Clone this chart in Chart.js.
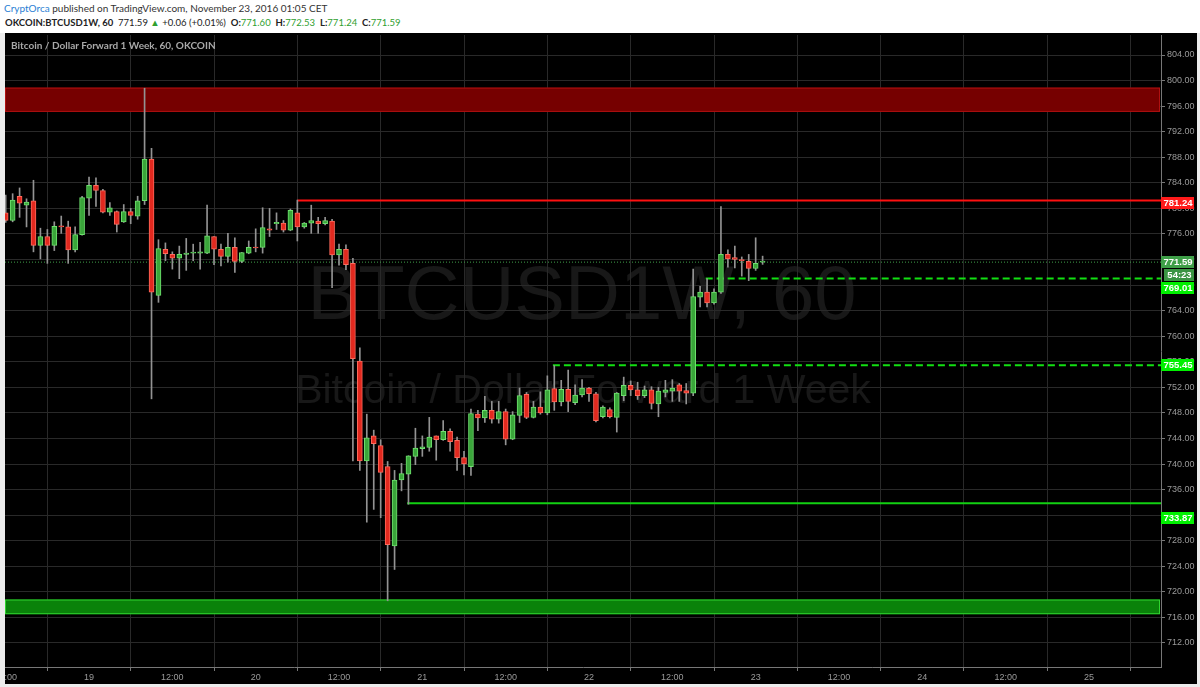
<!DOCTYPE html>
<html lang="en">
<head>
<meta charset="UTF-8">
<title>BTCUSD1W, 60</title>
<script src="https://cdn.jsdelivr.net/npm/chart.js@4.4.9/dist/chart.umd.min.js"></script>
<style>
    body { margin: 0; width: 1200px; height: 687px; overflow: hidden; background: #ececec; position: relative; font-family: "Lato", "Liberation Sans", sans-serif; }
    .cabecalho { position: absolute; left: 0; top: 0; width: 1200px; height: 33px; background: #fff; }
    .linha1 { position: absolute; left: 4px; top: 2px; font-size: 10px; color: #333; white-space: nowrap; }
    .linha1 .autor { color: #2a7fd4; }
    .linha2 { position: absolute; left: 5px; top: 17px; font-size: 9.5px; color: #222; white-space: nowrap; }
    .linha2 b { font-weight: 700; }
    .verde { color: #2fa02f; }
    .painel { position: absolute; left: 5px; top: 33px; width: 1192px; height: 651px; background: #000; }
    .titulo { position: absolute; left: 6px; top: 6px; font-size: 10px; font-weight: 700; color: #a8a8a8; white-space: nowrap; }
</style>
</head>
<body>
    <div class="cabecalho">
        <div class="linha1"><span class="autor">CryptOrca</span> published on TradingView.com, November 23, 2016 01:05 CET</div>
        <div class="linha2"><b>OKCOIN:BTCUSD1W, 60</b>&nbsp; 771.59 <span class="verde">&#9650;</span> +0.06 (+0.01%)&nbsp; <b>O:</b><span class="verde">771.60</span>&nbsp; <b>H:</b><span class="verde">772.53</span>&nbsp; <b>L:</b><span class="verde">771.24</span>&nbsp; <b>C:</b><span class="verde">771.59</span></div>
    </div>
    <div class="painel">
        <canvas id="grafico" width="1192" height="651"></canvas>
        <div class="titulo">Bitcoin / Dollar Forward 1 Week, 60, OKCOIN</div>
    </div>
<script>
    // hourly candles, first one at Nov 18 12:00 (hours counted from Nov 18 00:00)
    const primeiraHora = 12
    const abertura = [779.3, 778.1, 781.9, 780.5, 781.2, 774.2, 775.6, 774.2, 777.2, 777.1,
        773.5, 775.9, 781.6, 783.6, 782.8, 779.4, 779.5, 777.9, 779.5, 778.8,
        781.2, 787.7, 766.4, 773.6, 772.8, 772.2, 772.8, 773.0, 773.0, 773.0,
        775.6, 773.6, 772.5, 773.9, 771.7, 773.0, 773.9, 773.9, 776.8, 777.6,
        777.7, 776.6, 779.3, 777.1, 777.7, 778.0, 777.6, 778.0, 772.7, 773.6,
        771.4, 756.1, 740.5, 744.4, 742.9, 739.6, 727.2, 737.5, 738.4, 741.2,
        742.4, 742.6, 744.4, 743.8, 745.1, 743.7, 741.0, 739.6, 747.8, 747.2,
        748.4, 747.0, 748.2, 743.9, 747.6, 750.9, 747.3, 748.9, 748.0, 751.8,
        749.7, 751.7, 749.6, 750.8, 751.9, 751.0, 747.4, 748.5, 747.3, 750.7,
        752.3, 751.6, 750.7, 751.6, 749.4, 751.2, 751.4, 752.4, 751.5, 751.1,
        766.1, 766.9, 765.2, 766.9, 772.8, 772.3, 772.0, 771.7, 770.6, 771.58]
    const maximas = [782.1, 782.3, 783.2, 781.5, 784.4, 776.9, 776.7, 777.9, 778.8, 778.0,
        777.1, 781.9, 784.9, 784.8, 783.0, 780.9, 779.6, 780.6, 780.0, 781.9,
        798.8, 789.4, 775.1, 774.6, 773.2, 774.1, 775.3, 774.4, 774.7, 780.5,
        775.6, 774.4, 776.1, 775.4, 773.1, 774.9, 776.8, 780.1, 780.0, 779.3,
        778.1, 779.9, 781.3, 777.8, 780.5, 778.6, 778.6, 778.3, 774.4, 774.3,
        772.2, 758.2, 747.8, 745.3, 743.8, 740.4, 739.0, 740.1, 741.3, 745.6,
        744.4, 747.3, 744.4, 746.8, 745.5, 744.2, 742.0, 748.6, 748.4, 750.6,
        749.8, 749.8, 748.6, 748.2, 751.9, 751.2, 749.8, 751.3, 753.8, 755.4,
        753.1, 754.7, 752.4, 753.2, 752.0, 751.2, 749.1, 748.8, 751.2, 753.6,
        753.0, 752.8, 752.2, 752.1, 752.0, 753.1, 753.2, 752.6, 752.6, 770.5,
        767.8, 769.0, 767.4, 780.3, 773.5, 774.1, 772.4, 772.8, 775.4, 772.53]
    const minimas = [777.8, 777.9, 778.6, 777.1, 773.2, 772.1, 771.4, 773.4, 776.1, 771.4,
        773.2, 775.8, 778.9, 780.3, 779.3, 778.9, 776.3, 777.8, 777.6, 778.3,
        780.6, 750.2, 765.3, 771.8, 770.5, 769.0, 770.3, 771.8, 770.5, 772.9,
        771.2, 771.0, 771.6, 770.0, 771.5, 772.9, 773.2, 773.0, 775.6, 776.7,
        776.3, 776.5, 774.9, 776.9, 776.1, 776.1, 777.4, 767.6, 771.1, 770.4,
        740.5, 739.0, 730.9, 732.9, 731.6, 718.6, 723.5, 735.8, 733.7, 739.9,
        741.2, 742.0, 740.6, 743.7, 742.0, 739.0, 738.3, 738.2, 745.2, 746.5,
        746.4, 746.4, 743.0, 743.8, 746.5, 747.1, 747.2, 747.8, 747.7, 748.4,
        749.1, 748.2, 749.3, 750.5, 749.8, 746.6, 747.2, 747.2, 745.0, 749.9,
        750.7, 750.1, 750.4, 748.6, 747.4, 750.5, 749.8, 749.8, 749.4, 750.7,
        764.6, 764.6, 765.0, 766.7, 770.8, 770.7, 769.4, 768.7, 770.3, 771.24]
    const fechamento = [778.1, 781.3, 780.8, 781.0, 774.2, 775.6, 774.2, 777.2, 777.1, 773.5,
        775.9, 781.7, 783.6, 782.8, 779.4, 780.1, 777.5, 779.5, 778.9, 781.2,
        787.7, 766.9, 773.7, 772.9, 772.2, 772.8, 773.0, 773.1, 773.2, 775.7,
        773.6, 772.5, 773.9, 771.7, 773.1, 773.9, 773.8, 777.0, 776.6, 777.8,
        776.6, 779.7, 777.1, 777.7, 778.1, 777.6, 778.1, 772.7, 773.6, 771.2,
        756.5, 740.5, 744.1, 743.2, 738.7, 727.4, 737.5, 738.5, 741.3, 742.5,
        742.7, 744.2, 743.8, 745.1, 743.5, 741.0, 740.0, 747.9, 747.2, 748.4,
        747.0, 748.2, 743.9, 747.7, 750.7, 747.3, 748.9, 748.0, 751.6, 749.7,
        751.7, 749.8, 750.8, 751.9, 751.0, 746.8, 748.9, 747.4, 751.1, 752.3,
        751.6, 750.7, 751.6, 749.5, 751.4, 751.6, 751.9, 751.4, 751.1, 766.2,
        766.9, 765.2, 766.9, 772.8, 772.1, 772.0, 771.8, 770.6, 771.4, 771.59]

    // eixos
    const horasTicks = [12, 24, 36, 48, 60, 72, 84, 96, 108, 120, 132, 144, 156, 168]
    const rotulosTicks = ['12:00', '19', '12:00', '20', '12:00', '21', '12:00', '22', '12:00', '23', '12:00', '24', '12:00', '25']
    const precosTicks = [712, 716, 720, 724, 728, 732, 736, 740, 744, 748, 752, 756, 760, 764, 768, 772, 776, 780, 784, 788, 792, 796, 800, 804]

    // linhas horizontais desenhadas (preco e hora de inicio)
    const niveisPreco = [781.24, 769.01, 755.45, 733.87]
    const niveisInicio = [54, 112.8, 90.8, 69.8]
    const precoAtual = 771.59
    const contagem = '54:23'

    // zonas (base, topo)
    const zonaVermelha = [795.1, 798.9]
    const zonaVerde = [716.5, 718.8]

    const xMin = 11.9
    const xMax = 178.37

    let corpos = []
    let pavios = []
    let coresCorpo = []
    let coresBorda = []
    for (let i = 0; i < abertura.length; i++) {
        const h = primeiraHora + i
        corpos.push({ x: h, y: [abertura[i], fechamento[i]] })
        pavios.push({ x: h, y: [minimas[i], maximas[i]] })
        const sobe = fechamento[i] >= abertura[i]
        coresCorpo.push(sobe ? '#3aa53a' : '#e2291f')
        coresBorda.push(sobe ? '#6ee06e' : '#ff6a5c')
    }

    function linhaNivel(i) {
        return [{ x: niveisInicio[i], y: niveisPreco[i] }, { x: xMax, y: niveisPreco[i] }]
    }

    const pluginFundo = {
        id: 'fundo',
        beforeDraw(chart) {
            const ctx = chart.ctx
            ctx.save()
            ctx.fillStyle = '#181818'
            ctx.textAlign = 'center'
            ctx.textBaseline = 'middle'
            ctx.font = '76px "Liberation Sans", Arial, sans-serif'
            ctx.fillText('BTCUSD1W, 60', 577, 265)
            ctx.font = '41px "Liberation Sans", Arial, sans-serif'
            ctx.fillText('Bitcoin / Dollar Forward 1 Week', 578, 359)
            ctx.restore()
        },
        beforeDatasetsDraw(chart) {
            const ctx = chart.ctx
            const a = chart.chartArea
            const y = chart.scales.y
            ctx.save()
            let t = y.getPixelForValue(zonaVermelha[1]), b = y.getPixelForValue(zonaVermelha[0])
            ctx.fillStyle = '#760000'
            ctx.fillRect(a.left, t, a.right - a.left - 1, b - t)
            ctx.strokeStyle = '#b01010'
            ctx.lineWidth = 1
            ctx.strokeRect(a.left + 0.5, t + 0.5, a.right - a.left - 2, b - t - 1)
            t = y.getPixelForValue(zonaVerde[1]); b = y.getPixelForValue(zonaVerde[0])
            ctx.fillStyle = '#0a820a'
            ctx.fillRect(a.left, t, a.right - a.left - 1, b - t)
            ctx.strokeStyle = '#2fd42f'
            ctx.strokeRect(a.left + 0.5, t + 0.5, a.right - a.left - 2, b - t - 1)
            ctx.restore()
        },
        afterDraw(chart) {
            const ctx = chart.ctx
            const a = chart.chartArea
            const y = chart.scales.y
            const etiquetas = [
                { texto: niveisPreco[0].toFixed(2), v: niveisPreco[0], dy: 3, fundo: '#ff1a1a', rec: 0 },
                { texto: precoAtual.toFixed(2), v: precoAtual, dy: 0, fundo: '#3f9f48', rec: 0 },
                { texto: contagem, v: precoAtual, dy: 13, fundo: '#3a9443', rec: 3 },
                { texto: niveisPreco[1].toFixed(2), v: niveisPreco[1], dy: 9, fundo: '#00f000', rec: 0 },
                { texto: niveisPreco[2].toFixed(2), v: niveisPreco[2], dy: 0, fundo: '#00f000', rec: 0 },
                { texto: niveisPreco[3].toFixed(2), v: niveisPreco[3], dy: 15, fundo: '#00f000', rec: 0 }
            ]
            ctx.save()
            ctx.font = 'bold 9.5px "Liberation Sans", Arial, sans-serif'
            ctx.textAlign = 'center'
            ctx.textBaseline = 'middle'
            etiquetas.forEach(function (e) {
                const py = Math.round(y.getPixelForValue(e.v) + e.dy)
                ctx.fillStyle = e.fundo
                ctx.fillRect(a.right + e.rec, py - 6, 33 - e.rec, 12)
                ctx.fillStyle = '#ffffff'
                ctx.fillText(e.texto, a.right + 17 + e.rec / 2, py + 0.5)
            })
            ctx.restore()
        }
    }

    const config = {
        type: 'bar',
        data: {
            datasets: [
                {
                    data: corpos,
                    backgroundColor: coresCorpo,
                    borderColor: coresBorda,
                    borderWidth: 1,
                    borderSkipped: false,
                    barThickness: 5,
                    minBarLength: 1,
                    grouped: false,
                    order: 0
                },
                {
                    data: pavios,
                    backgroundColor: '#939393',
                    borderWidth: 0,
                    barThickness: 1,
                    grouped: false,
                    order: 1
                },
                { type: 'line', data: linhaNivel(0), borderColor: '#ff1010', borderWidth: 2, pointRadius: 0, order: 2 },
                { type: 'line', data: linhaNivel(1), borderColor: '#12e012', borderWidth: 2, borderDash: [7, 4], pointRadius: 0, order: 2 },
                { type: 'line', data: linhaNivel(2), borderColor: '#12e012', borderWidth: 2, borderDash: [7, 4], pointRadius: 0, order: 2 },
                { type: 'line', data: linhaNivel(3), borderColor: '#12d012', borderWidth: 2, pointRadius: 0, order: 2 },
                { type: 'line', data: [{ x: xMin, y: precoAtual }, { x: xMax, y: precoAtual }], borderColor: '#3f9f48', borderWidth: 1, borderDash: [1, 2], pointRadius: 0, order: 3 }
            ]
        },
        options: {
            responsive: false,
            animation: false,
            layout: { padding: { top: 2, left: 0, right: 0, bottom: 0 } },
            plugins: { legend: { display: false }, tooltip: { enabled: false } },
            scales: {
                x: {
                    type: 'linear',
                    min: xMin,
                    max: xMax,
                    offset: false,
                    afterBuildTicks: function (s) { s.ticks = horasTicks.map(function (v) { return { value: v } }) },
                    afterFit: function (s) { s.height = 17; s.paddingLeft = 0; s.paddingRight = 0 },
                    grid: { color: '#292929', tickColor: '#777', tickLength: 4 },
                    border: { color: '#777' },
                    ticks: {
                        autoSkip: false,
                        maxRotation: 0,
                        padding: 1,
                        color: '#9a9a9a',
                        font: { family: '"Liberation Sans", Arial, sans-serif', size: 9 },
                        callback: function (v) { return rotulosTicks[horasTicks.indexOf(v)] }
                    }
                },
                y: {
                    position: 'right',
                    min: 708.24,
                    max: 807.13,
                    afterBuildTicks: function (s) { s.ticks = precosTicks.map(function (v) { return { value: v } }) },
                    afterFit: function (s) { s.width = 36; s.paddingTop = 0; s.paddingBottom = 0 },
                    grid: { color: '#292929', tickColor: '#777', tickLength: 4 },
                    border: { color: '#777' },
                    ticks: {
                        padding: 2,
                        color: '#9a9a9a',
                        font: { family: '"Liberation Sans", Arial, sans-serif', size: 9 },
                        callback: function (v) { return Number(v).toFixed(2) }
                    }
                }
            }
        },
        plugins: [pluginFundo]
    }

    let myChart = new Chart(document.getElementById('grafico'), config)
</script>
</body>
</html>
